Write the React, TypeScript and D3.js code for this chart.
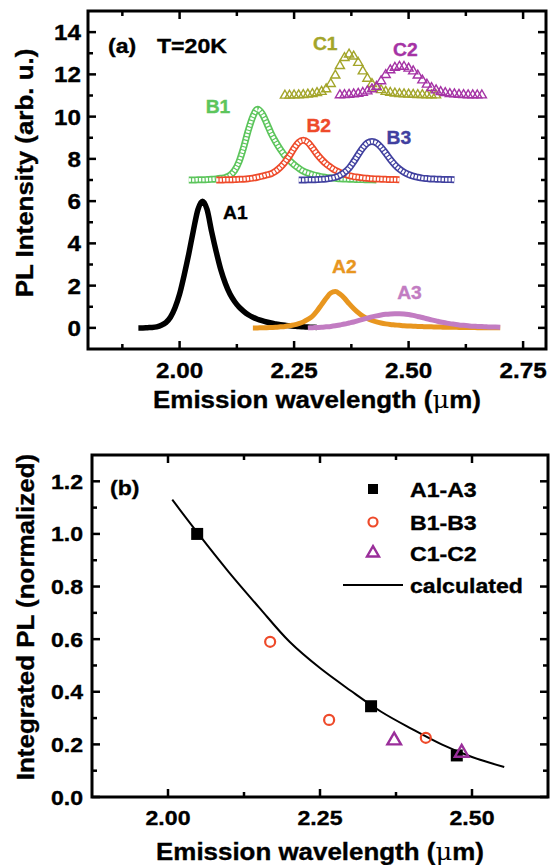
import React from "react";
import * as d3 from "d3";

const FONT = "'Liberation Sans', Arial, Helvetica, sans-serif";
const W = 551;
const H = 865;

// ---------------- Panel (a): PL spectra, sampled every 0.01 µm ----------------
const STEP = 0.01;
const SERIES_NAMES = ["A1", "A2", "A3", "B1", "B2", "B3", "C1", "C2"];
const SERIES_START = [1.91, 2.16, 2.28, 2.02, 2.08, 2.26, 2.23, 2.35];
const SERIES_OFFSET = [0, 0, 0, 7, 7, 7, 11, 11];
const SERIES_COLOR = ["#000000", "#E8961F", "#C27CC2", "#5CC55C", "#EE4A2A", "#40409F", "#A3A52A", "#A533A5"];
const SERIES_MARK = ["square", "square", "square", "circle", "circle", "circle", "triangle", "triangle"];

const A1 = [0.0, 0.0, 0.01, 0.02, 0.05, 0.12, 0.25, 0.5, 0.95, 1.6, 2.5, 3.5, 4.6, 5.6, 6.0, 5.6, 4.55, 3.6, 2.75, 2.1,
  1.6, 1.25, 0.98, 0.78, 0.62, 0.5, 0.41, 0.34, 0.28, 0.23, 0.19, 0.15, 0.12, 0.1, 0.08, 0.06, 0.05, 0.04, 0.03, 0.02];
const A2 = [0.0, 0.0, 0.01, 0.01, 0.02, 0.03, 0.05, 0.07, 0.1, 0.14, 0.2, 0.28, 0.4, 0.55, 0.8, 1.1, 1.4, 1.65, 1.72, 1.6,
  1.4, 1.15, 0.92, 0.72, 0.56, 0.44, 0.35, 0.28, 0.23, 0.19, 0.16, 0.14, 0.12, 0.1, 0.09, 0.08, 0.07, 0.06, 0.05, 0.05,
  0.04, 0.04, 0.03, 0.03, 0.03, 0.02, 0.02, 0.02, 0.02, 0.01, 0.01, 0.01, 0.01, 0.01, 0.01];
const A3 = [0.0, 0.01, 0.02, 0.03, 0.05, 0.07, 0.1, 0.14, 0.18, 0.23, 0.28, 0.34, 0.4, 0.46, 0.52, 0.57, 0.61, 0.64, 0.66, 0.67,
  0.67, 0.66, 0.63, 0.59, 0.54, 0.49, 0.43, 0.38, 0.33, 0.28, 0.24, 0.2, 0.17, 0.14, 0.12, 0.1, 0.08, 0.07, 0.06, 0.05,
  0.04, 0.04, 0.03];
const B1 = [0.0, 0.0, 0.01, 0.01, 0.02, 0.03, 0.05, 0.08, 0.12, 0.22, 0.45, 0.88, 1.55, 2.35, 3.0, 3.35, 3.15, 2.7, 2.2, 1.8,
  1.45, 1.15, 0.92, 0.72, 0.56, 0.42, 0.33, 0.26, 0.2, 0.16, 0.12, 0.1, 0.08, 0.06, 0.05, 0.04, 0.03, 0.02, 0.02, 0.01,
  0.01, 0.0];
const B2 = [0.0, 0.0, 0.01, 0.01, 0.02, 0.03, 0.04, 0.06, 0.09, 0.13, 0.18, 0.24, 0.3, 0.42, 0.6, 0.85, 1.15, 1.5, 1.78, 1.88,
  1.78, 1.52, 1.22, 0.97, 0.76, 0.6, 0.46, 0.36, 0.28, 0.21, 0.16, 0.13, 0.1, 0.08, 0.06, 0.05, 0.04, 0.03, 0.02, 0.02,
  0.01];
const B3 = [0.0, 0.0, 0.01, 0.01, 0.02, 0.03, 0.05, 0.08, 0.13, 0.22, 0.36, 0.56, 0.86, 1.2, 1.52, 1.75, 1.82, 1.75, 1.55, 1.27,
  0.98, 0.72, 0.52, 0.37, 0.26, 0.18, 0.13, 0.09, 0.07, 0.05, 0.04, 0.03, 0.02, 0.02, 0.01];
const C1 = [0.0, 0.0, 0.01, 0.02, 0.03, 0.05, 0.08, 0.12, 0.18, 0.3, 0.55, 0.95, 1.4, 1.78, 1.95, 1.85, 1.55, 1.15, 0.8, 0.55,
  0.38, 0.26, 0.18, 0.13, 0.1, 0.08, 0.06, 0.05, 0.04, 0.03, 0.03, 0.02, 0.02, 0.01];
const C2 = [0.02, 0.03, 0.04, 0.06, 0.09, 0.13, 0.2, 0.3, 0.42, 0.68, 0.98, 1.2, 1.32, 1.37, 1.36, 1.28, 1.15, 0.95, 0.72, 0.52,
  0.36, 0.25, 0.17, 0.12, 0.08, 0.06, 0.04, 0.03, 0.02, 0.02, 0.01, 0.01];
const SERIES_VALUES = [A1, A2, A3, B1, B2, B3, C1, C2];

// curve labels (wavelength, intensity)
const LABEL_X = [2.095, 2.333, 2.475, 2.057, 2.277, 2.452, 2.291, 2.466];
const LABEL_Y = [5.15, 2.6, 1.37, 10.18, 9.28, 8.7, 13.17, 12.89];

const A_XMAJOR = [2.0, 2.25, 2.5, 2.75];
const A_XMINOR = [1.875, 2.125, 2.375, 2.625];
const A_YMAJOR = [0, 2, 4, 6, 8, 10, 12, 14];
const A_YMINOR = [1, 3, 5, 7, 9, 11, 13];

// ---------------- Panel (b): integrated PL ----------------
const A_WL = [2.048, 2.334, 2.475];
const A_PL = [1.0, 0.345, 0.158];
const B_WL = [2.168, 2.265, 2.424];
const B_PL = [0.59, 0.293, 0.225];
const C_WL = [2.372, 2.483];
const C_PL = [0.215, 0.168];
const CALC_WL = [2.007, 2.05, 2.1, 2.15, 2.2, 2.25, 2.3, 2.35, 2.4, 2.45, 2.5, 2.553];
const CALC_PL = [1.13, 1.0, 0.855, 0.72, 0.59, 0.49, 0.405, 0.325, 0.26, 0.2, 0.152, 0.114];
const LEGEND = ["A1-A3", "B1-B3", "C1-C2", "calculated"];

const B_XMAJOR = [2.0, 2.25, 2.5];
const B_XMINOR = [2.125, 2.375];
const B_YMAJOR = [0, 0.2, 0.4, 0.6, 0.8, 1.0, 1.2];
const B_YMINOR = [0.1, 0.3, 0.5, 0.7, 0.9, 1.1];

const xa = d3.scaleLinear().domain([1.8, 2.8]).range([88, 546]);
const ya = d3.scaleLinear().domain([-1, 15]).range([349, 11]);
const xb = d3.scaleLinear().domain([1.875, 2.625]).range([92, 548]);
const yb = d3.scaleLinear().domain([0, 1.3]).range([797, 455]);

type TP = {
  x: number; y: number; size: number; anchor?: string; rotate?: number; sx?: number;
  fill?: string; weight?: string; children: React.ReactNode;
};
function Txt({ x, y, size, anchor = "start", rotate = 0, sx = 1.1, fill = "#000", weight = "bold", children }: TP) {
  return (
    <g transform={`translate(${x},${y}) rotate(${rotate}) scale(${sx},1)`}>
      <text fontFamily={FONT} fontSize={size} fontWeight={weight} textAnchor={anchor as any} fill={fill}
        stroke={fill} strokeWidth={0.35}>
        {children}
      </text>
    </g>
  );
}

function Frame({ x, y, xMajor, xMinor, yMajor, yMinor, xFmt, yFmt, yLabelX, fs }: any) {
  const [l, r] = x.range();
  const [b, t] = y.range();
  const MJ = 8, MN = 5, SW = 2.5;
  const els: React.ReactNode[] = [];
  xMajor.forEach((v: number, i: number) => {
    const px = x(v);
    els.push(<line key={"xM" + i} x1={px} x2={px} y1={b} y2={b - MJ} stroke="#000" strokeWidth={SW} />);
    els.push(<line key={"xMt" + i} x1={px} x2={px} y1={t} y2={t + MJ} stroke="#000" strokeWidth={SW} />);
    els.push(<Txt key={"xl" + i} x={px} y={b + fs * 1.33} size={fs} anchor="middle">{xFmt(v)}</Txt>);
  });
  xMinor.forEach((v: number, i: number) => {
    const px = x(v);
    els.push(<line key={"xm" + i} x1={px} x2={px} y1={b} y2={b - MN} stroke="#000" strokeWidth={SW} />);
    els.push(<line key={"xmt" + i} x1={px} x2={px} y1={t} y2={t + MN} stroke="#000" strokeWidth={SW} />);
  });
  yMajor.forEach((v: number, i: number) => {
    const py = y(v);
    els.push(<line key={"yM" + i} x1={l} x2={l + MJ} y1={py} y2={py} stroke="#000" strokeWidth={SW} />);
    els.push(<line key={"yMr" + i} x1={r} x2={r - MJ} y1={py} y2={py} stroke="#000" strokeWidth={SW} />);
    els.push(<Txt key={"yl" + i} x={yLabelX} y={py + fs * 0.36} size={fs} anchor="end">{yFmt(v)}</Txt>);
  });
  yMinor.forEach((v: number, i: number) => {
    const py = y(v);
    els.push(<line key={"ym" + i} x1={l} x2={l + MN} y1={py} y2={py} stroke="#000" strokeWidth={SW} />);
    els.push(<line key={"ymr" + i} x1={r} x2={r - MN} y1={py} y2={py} stroke="#000" strokeWidth={SW} />);
  });
  return (
    <g>
      <rect x={l} y={t} width={r - l} height={b - t} fill="none" stroke="#000" strokeWidth={3} />
      {els}
    </g>
  );
}

function Spectrum({ idx }: { idx: number }) {
  const vals = SERIES_VALUES[idx];
  const start = SERIES_START[idx];
  const off = SERIES_OFFSET[idx];
  const color = SERIES_COLOR[idx];
  const mark = SERIES_MARK[idx];
  const line = d3
    .line<number>()
    .x((_, i) => xa(start + i * STEP))
    .y((v) => ya(v + off))
    .curve(d3.curveMonotoneX);
  const d = line(vals) || "";
  if (mark === "square") {
    return <path d={d} fill="none" stroke={color} strokeWidth={idx === 0 ? 5.5 : 5} strokeLinejoin="round" />;
  }
  if (mark === "circle") {
    return (
      <g>
        <path d={d} fill="none" stroke={color} strokeWidth={7} strokeLinejoin="round" />
        <path d={d} fill="none" stroke="#fff" strokeWidth={3.6} strokeDasharray="2.2 1.2" strokeLinejoin="round" />
      </g>
    );
  }
  const tri = d3.symbol().type(d3.symbolTriangle).size(36)() || "";
  return (
    <g>
      {vals.map((v, i) => (
        <path key={i} d={tri} transform={`translate(${xa(start + i * STEP)},${ya(v + off)})`}
          fill="none" stroke={color} strokeWidth={1.4} />
      ))}
    </g>
  );
}

export default function App() {
  const f2 = d3.format(".2f");
  const f1 = d3.format(".1f");
  const fd = d3.format("d");
  const calc = d3
    .line<number>()
    .x((v) => xb(v))
    .y((_, i) => yb(CALC_PL[i]))
    .curve(d3.curveCatmullRom);
  const sq = d3.symbol().type(d3.symbolSquare).size(144)() || "";
  const triB = d3.symbol().type(d3.symbolTriangle).size(80)() || "";
  const sqL = d3.symbol().type(d3.symbolSquare).size(100)() || "";
  const triL = d3.symbol().type(d3.symbolTriangle).size(62)() || "";
  const legX = 373;
  const legY = [489, 522, 553, 585];
  const purple = "#9A2E9A";
  const red = "#EE4A2A";

  return (
    <svg width={W} height={H} style={{ position: "absolute", left: 0, top: 0, background: "#fff" }}>
      <rect x={0} y={0} width={W} height={H} fill="#fff" />

      {/* ---------- Panel (a) ---------- */}
      {SERIES_NAMES.map((_, i) => <Spectrum key={i} idx={i} />)}
      {SERIES_NAMES.map((n, i) => (
        <Txt key={"lab" + i} x={xa(LABEL_X[i])} y={ya(LABEL_Y[i])} size={17.5} fill={SERIES_COLOR[i]}>{n}</Txt>
      ))}
      <Frame x={xa} y={ya} xMajor={A_XMAJOR} xMinor={A_XMINOR} yMajor={A_YMAJOR} yMinor={A_YMINOR}
        xFmt={f2} yFmt={fd} yLabelX={81} fs={22} />
      <Txt x={108} y={53} size={21}>(a)</Txt>
      <Txt x={157} y={53} size={21}>T=20K</Txt>
      <Txt x={317} y={408} size={24} anchor="middle" sx={1.08}>
        Emission wavelength (<tspan fontWeight="normal" strokeWidth={0} fontFamily="'DejaVu Serif', serif">μ</tspan>m)
      </Txt>
      <Txt x={33} y={173} size={24} anchor="middle" rotate={-90} sx={1.08}>PL Intensity (arb. u.)</Txt>

      {/* ---------- Panel (b) ---------- */}
      <path d={calc(CALC_WL) || ""} fill="none" stroke="#000" strokeWidth={2} />
      {A_WL.map((w, i) => (
        <path key={"a" + i} d={sq} transform={`translate(${xb(w)},${yb(A_PL[i])})`} fill="#000" />
      ))}
      {B_WL.map((w, i) => (
        <circle key={"b" + i} cx={xb(w)} cy={yb(B_PL[i])} r={5} fill="none" stroke={red} strokeWidth={2.2} />
      ))}
      {C_WL.map((w, i) => (
        <path key={"c" + i} d={triB} transform={`translate(${xb(w)},${yb(C_PL[i])})`} fill="none" stroke={purple} strokeWidth={2.4} />
      ))}
      <Frame x={xb} y={yb} xMajor={B_XMAJOR} xMinor={B_XMINOR} yMajor={B_YMAJOR} yMinor={B_YMINOR}
        xFmt={f2} yFmt={f1} yLabelX={83} fs={21} />
      <Txt x={110} y={495} size={21}>(b)</Txt>

      {/* legend */}
      <path d={sqL} transform={`translate(${legX},${legY[0]})`} fill="#000" />
      <circle cx={legX} cy={legY[1]} r={4.5} fill="none" stroke={red} strokeWidth={2.2} />
      <path d={triL} transform={`translate(${legX},${legY[2]})`} fill="none" stroke={purple} strokeWidth={2.4} />
      <line x1={343} x2={403} y1={legY[3]} y2={legY[3]} stroke="#000" strokeWidth={2} />
      {LEGEND.map((t, i) => (
        <Txt key={"lg" + i} x={410} y={legY[i] + 7.5} size={21}>{t}</Txt>
      ))}

      <Txt x={320} y={860} size={24} anchor="middle" sx={1.08}>
        Emission wavelength (<tspan fontWeight="normal" strokeWidth={0} fontFamily="'DejaVu Serif', serif">μ</tspan>m)
      </Txt>
      <Txt x={34} y={617} size={24} anchor="middle" rotate={-90} sx={1.08}>Integrated PL (normalized)</Txt>
    </svg>
  );
}
